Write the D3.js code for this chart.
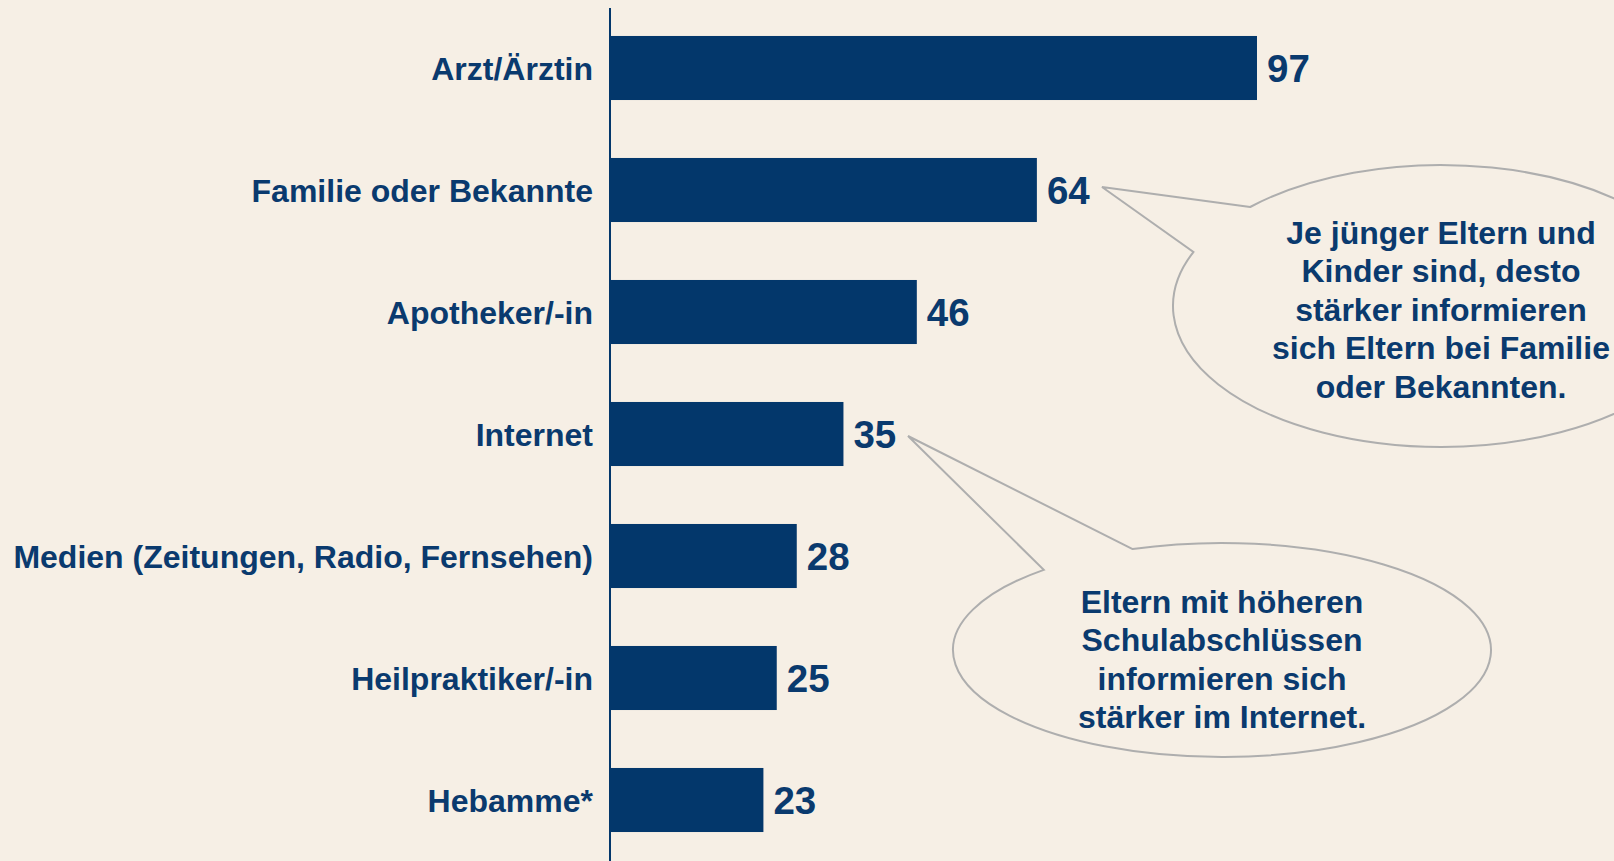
<!DOCTYPE html>
<html>
<head>
<meta charset="utf-8">
<script src="https://cdn.jsdelivr.net/npm/d3@7"></script>
<style>
  html, body { margin: 0; padding: 0; background: #f6efe5; }
  svg { display: block; font-family: "Liberation Sans", Arial, Helvetica, sans-serif; }
</style>
</head>
<body>
<div id="chart"></div>
<script>
const categories = [
  "Arzt/Ärztin",
  "Familie oder Bekannte",
  "Apotheker/-in",
  "Internet",
  "Medien (Zeitungen, Radio, Fernsehen)",
  "Heilpraktiker/-in",
  "Hebamme*"
];
const values = [97, 64, 46, 35, 28, 25, 23];

const noteFamily = [
  "Je jünger Eltern und",
  "Kinder sind, desto",
  "stärker informieren",
  "sich Eltern bei Familie",
  "oder Bekannten."
];
const noteInternet = [
  "Eltern mit höheren",
  "Schulabschlüssen",
  "informieren sich",
  "stärker im Internet."
];

function drawChart() {
  const width = 1614, height = 861;
  const navy = "#03376b", textColor = "#0a3a6e", bg = "#f6efe5";

  const data = categories.map((c, i) => ({ cat: c, value: values[i] }));

  const x = d3.scaleLinear()
    .domain([0, 100])
    .range([610, 1277]);

  const y = d3.scaleBand()
    .domain(categories)
    .range([7, height])
    .paddingInner(0.475)
    .paddingOuter(0.2375);

  const svg = d3.select("#chart")
    .append("svg")
    .attr("width", width)
    .attr("height", height)
    .attr("viewBox", [0, 0, width, height]);

  svg.append("rect")
    .attr("width", width)
    .attr("height", height)
    .attr("fill", bg);

  // bars
  svg.append("g")
    .attr("fill", navy)
    .selectAll("rect")
    .data(data)
    .join("rect")
    .attr("x", x(0))
    .attr("y", d => y(d.cat))
    .attr("width", d => x(d.value) - x(0))
    .attr("height", y.bandwidth());

  // value labels
  svg.append("g")
    .selectAll("text")
    .data(data)
    .join("text")
    .attr("x", d => x(d.value) + 10)
    .attr("y", d => y(d.cat) + y.bandwidth() / 2)
    .attr("dy", "0.36em")
    .attr("fill", textColor)
    .style("font-size", "38.5px")
    .style("font-weight", "bold")
    .text(d => d.value);

  // category axis
  const axis = svg.append("g")
    .attr("transform", `translate(${x(0)},0)`)
    .call(d3.axisLeft(y).tickSize(0).tickSizeOuter(0).tickPadding(17));
  axis.select(".domain")
    .attr("stroke", navy)
    .attr("stroke-width", 2)
    .attr("d", `M0,8V${height}`);
  axis.selectAll(".tick text")
    .attr("fill", textColor)
    .attr("dy", "0.36em")
    .style("font-size", "32px")
    .style("font-weight", "bold");

  // speech bubbles
  function bubble(b, lines) {
    const pt = a => [b.cx + b.rx * Math.cos(a * Math.PI / 180), b.cy + b.ry * Math.sin(a * Math.PI / 180)];
    const p1 = pt(b.a1), p2 = pt(b.a2);
    const d = `M${p1}L${b.tip}L${p2}A${b.rx},${b.ry} 0 1 0 ${p1}Z`;
    svg.append("path")
      .attr("d", d)
      .attr("fill", "none")
      .attr("stroke", "#aeaeae")
      .attr("stroke-width", 2);
    svg.append("text")
      .attr("text-anchor", "middle")
      .attr("fill", textColor)
      .style("font-size", "32px")
      .style("font-weight", "bold")
      .selectAll("tspan")
      .data(lines)
      .join("tspan")
      .attr("x", b.cx)
      .attr("y", (d, i) => b.y0 + i * 38.4)
      .text(d => d);
  }

  bubble({ cx: 1441, cy: 306, rx: 268, ry: 141, a1: 224.6, a2: 202.5, tip: [1102, 187], y0: 244 }, noteFamily);
  bubble({ cx: 1222, cy: 650, rx: 269, ry: 107, a1: 250.6, a2: 228.5, tip: [908, 436], y0: 613 }, noteInternet);
}

drawChart();
</script>
</body>
</html>
